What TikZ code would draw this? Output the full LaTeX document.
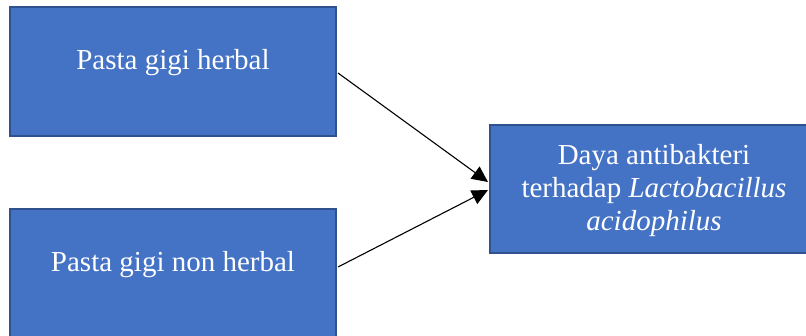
\documentclass[tikz,border=0pt]{standalone}
\usepackage{fontspec}
\setmainfont{Liberation Serif}
\usetikzlibrary{arrows.meta,calc}
\definecolor{boxfill}{HTML}{4472C4}
\definecolor{boxline}{HTML}{2F528F}
\tikzset{
  box/.style={draw=boxline, line width=2pt, fill=boxfill, rectangle, inner sep=0pt},
  boxtext/.style={text=white, font=\fontsize{29}{33}\selectfont, inner sep=0pt, anchor=base, align=center},
  conn/.style={draw=black, line width=1.1pt, -{Triangle[length=16pt,width=15pt]}}
}
\begin{document}
\begin{tikzpicture}[x=1pt,y=-1pt]
\clip (0,0) rectangle (806,336);
\useasboundingbox (0,0) rectangle (806,336);
\fill[white] (0,0) rectangle (806,336);
% boxes
\node[box, minimum width=326pt, minimum height=129pt] (h) at (173,71.5) {};
\node[box, minimum width=326pt, minimum height=150pt] (nh) at (173,284) {};
\node[box, minimum width=328pt, minimum height=128pt] (d) at (654,189) {};
% texts
\node[boxtext] (th) at (173,70) {Pasta gigi herbal};
\node[boxtext] (tnh) at (173,272) {Pasta gigi non herbal};
\node[boxtext] (td) at (654,230.5) {Daya antibakteri\\terhadap \textit{Lactobacillus}\\\textit{acidophilus}};
% connectors
\coordinate (hs) at ($(h.east)+(1,1.5)$);
\coordinate (nhs) at ($(nh.east)+(1,-17)$);
\coordinate (de1) at ($(d.west)+(-1,-7)$);
\coordinate (de2) at ($(d.west)+(-1,1)$);
\draw[conn] (hs) -- (de1);
\draw[conn] (nhs) -- (de2);
\end{tikzpicture}
\end{document}
